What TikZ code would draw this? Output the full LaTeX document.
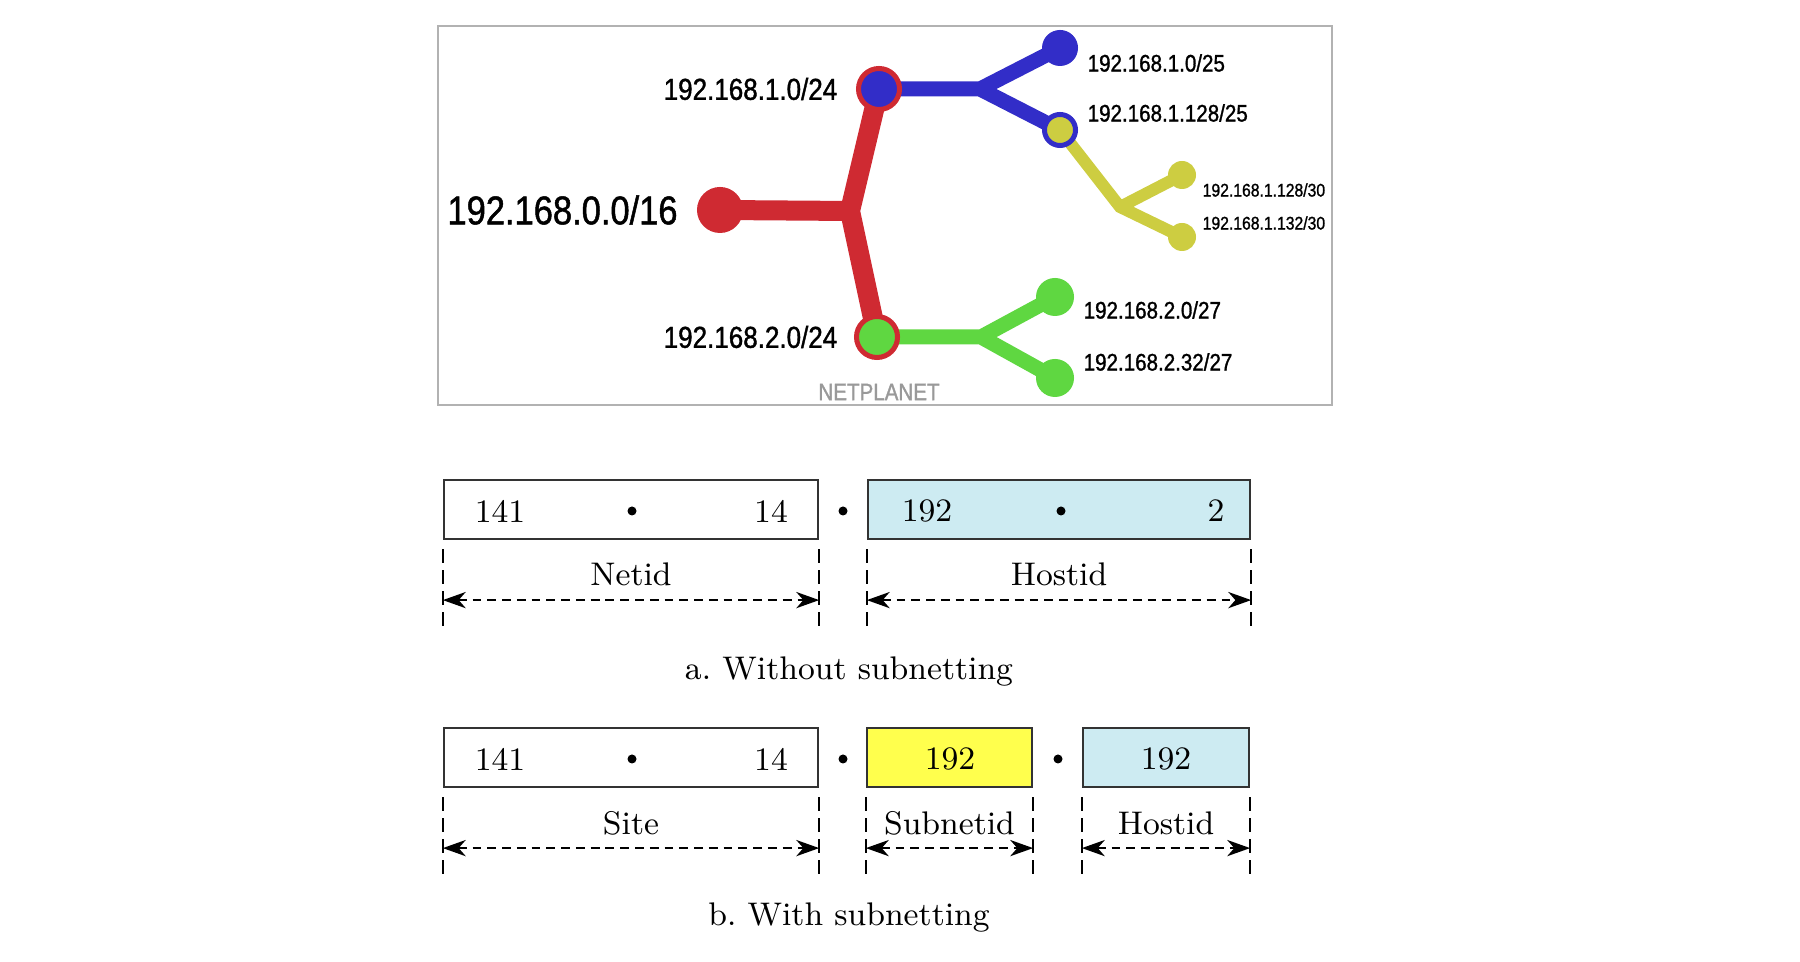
\documentclass[tikz,border=0pt]{standalone}
\usepackage{fontspec}
\usepackage{tikz}
\usetikzlibrary{
        arrows.meta,
        backgrounds,
        positioning
    }
\newfontfamily\netfont[FakeStretch=0.86,FakeBold=1.2]{Liberation Sans}
\definecolor{netred}{HTML}{CF2A32}
\definecolor{netblue}{HTML}{322DC8}
\definecolor{netolive}{HTML}{CDCD41}
\definecolor{netgreen}{HTML}{5FD741}
\definecolor{hostblue}{HTML}{CDEBF2}
\definecolor{subyellow}{HTML}{FFFF4D}
\tikzset{>={Stealth[length=6.5pt,width=4.6pt,inset=2pt]},node distance=0.2cm}
\tikzset{
  knob/.style={circle,inner sep=0pt,minimum size=#1},
  ring/.style={circle,inner sep=0pt,minimum size=#1,line width=0.05cm},
  netlbl/.style={inner sep=0pt,font=\netfont\fontsize{#1}{#1}\selectfont},
  field/.style={draw=black!80,line width=0.6pt,inner sep=0pt,minimum height=0.59cm},
  numtxt/.style={inner sep=0pt,font=\fontsize{9.3}{11}\selectfont},
  sepdot/.style={circle,fill=black,inner sep=0pt,minimum size=0.09cm},
  edgetick/.style={line width=0.6pt,dash pattern=on 4pt off 2pt},
  spanline/.style={<->,line width=0.6pt,dash pattern=on 2.5pt off 1.7pt}
}

\begin{document}
\begin{tikzpicture}[x=0.01cm,y=-0.01cm]
                \useasboundingbox (0,0) rectangle (1800,962);
                \draw[black!30,line width=0.014cm] (438,26) rectangle (1332,405);
                \node[knob=0.46cm,fill=netred] (root) at (720,210) {};
                \node[ring=0.41cm,draw=netred,fill=netblue] (n1) at (879,89) {};
                \node[ring=0.41cm,draw=netred,fill=netgreen] (n2) at (877,337) {};
                \node[knob=0.36cm,fill=netblue] (n1a) at (1060,48) {};
                \node[ring=0.31cm,draw=netblue,fill=netolive] (n1b) at (1060,130) {};
                \node[knob=0.28cm,fill=netolive] (n1b1) at (1182,175) {};
                \node[knob=0.28cm,fill=netolive] (n1b2) at (1182,237) {};
                \node[knob=0.38cm,fill=netgreen] (n2a) at (1055,297) {};
                \node[knob=0.38cm,fill=netgreen] (n2b) at (1055,378) {};
                \coordinate (j0) at (850,211);
                \coordinate (j1) at (980,89);
                \coordinate (j1b) at (1120,207);
                \coordinate (j2) at (981,337);
                \begin{scope}[on background layer,line cap=round,line join=round]
                \draw[netred,line width=0.2cm] (root.center) -- (j0) (n1.center) -- (j0) -- (n2.center);
                \draw[netblue,line width=0.15cm] (n1.center) -- (j1) (n1a.center) -- (j1) -- (n1b.center);
                \draw[netolive,line width=0.12cm] (n1b.center) -- (j1b) -- (n1b2.center) (j1b) -- (n1b1.center);
                \draw[netgreen,line width=0.15cm] (n2.center) -- (j2) (n2a.center) -- (j2) -- (n2b.center);
                \end{scope}
                \node[netlbl=11.4,left=0.18cm of root] (l0) {192.168.0.0/16};
                \node[netlbl=8.6,left=0.18cm of n1] (l1) {192.168.1.0/24};
                \node[netlbl=8.6,left=0.16cm of n2] (l2) {192.168.2.0/24};
                \node[netlbl=6.8,anchor=west] (l1a) at (1087,63) {192.168.1.0/25};
                \node[netlbl=6.8,anchor=west] (l1b) at (1087,113) {192.168.1.128/25};
                \node[netlbl=5.2,anchor=west] (l1b1) at (1202,190) {192.168.1.128/30};
                \node[netlbl=5.2,anchor=west] (l1b2) at (1202,223) {192.168.1.132/30};
                \node[netlbl=6.8,anchor=west] (l2a) at (1083,310) {192.168.2.0/27};
                \node[netlbl=6.8,anchor=west] (l2b) at (1083,362) {192.168.2.32/27};
                \node[netlbl=6.8,text=black!40] (brand) at (879,392) {NETPLANET};

                \node[field,minimum width=3.74cm] (a1) at (631,509.5) {};
                \node[field,fill=hostblue,minimum width=3.82cm] (a2) at (1059,509.5) {};
                \node[numtxt] (a141) at (500,511) {141};
                \node[sepdot] (ad1) at (632,511) {};
                \node[numtxt] (a14) at (771,511) {14};
                \node[sepdot] (ad2) at (843,511) {};
                \node[numtxt] (a192) at (927,511) {192};
                \node[sepdot] (ad3) at (1061,511) {};
                \node[numtxt] (a2t) at (1216,511) {2};
                \node[numtxt] (anet) at ([yshift=-0.34cm]a1.south) {Netid};
                \node[numtxt] (ahost) at ([yshift=-0.34cm]a2.south) {Hostid};
                \node[numtxt] (capa) at (849,672) {a.\ Without subnetting};

                \node[field,minimum width=3.74cm] (b1) at (631,757.5) {};
                \node[field,fill=subyellow,minimum width=1.65cm] (b2) at (949.5,757.5) {};
                \node[field,fill=hostblue,minimum width=1.66cm] (b3) at (1166,757.5) {};
                \node[numtxt] (b141) at (500,759) {141};
                \node[sepdot] (bd1) at (632,759) {};
                \node[numtxt] (b14) at (771,759) {14};
                \node[sepdot] (bd2) at (843,759) {};
                \node[numtxt] (b192) at (950,759) {192};
                \node[sepdot] (bd3) at (1058,759) {};
                \node[numtxt] (b192h) at (1166,759) {192};
                \node[numtxt] (bsite) at ([yshift=-0.35cm]b1.south) {Site};
                \node[numtxt] (bsub) at ([yshift=-0.35cm]b2.south) {Subnetid};
                \node[numtxt] (bhost) at ([yshift=-0.35cm]b3.south) {Hostid};
                \node[numtxt] (capb) at (849,918) {b.\ With subnetting};

                \foreach \f in {a1,a2,b1,b2,b3} {
                    \draw[edgetick] ([yshift=-0.09cm]\f.south west) -- ([yshift=-0.91cm]\f.south west);
                    \draw[edgetick] ([yshift=-0.09cm]\f.south east) -- ([yshift=-0.91cm]\f.south east);
                    \draw[spanline] ([yshift=-0.6cm]\f.south west) -- ([yshift=-0.6cm]\f.south east);
                }
\end{tikzpicture}
\end{document}
